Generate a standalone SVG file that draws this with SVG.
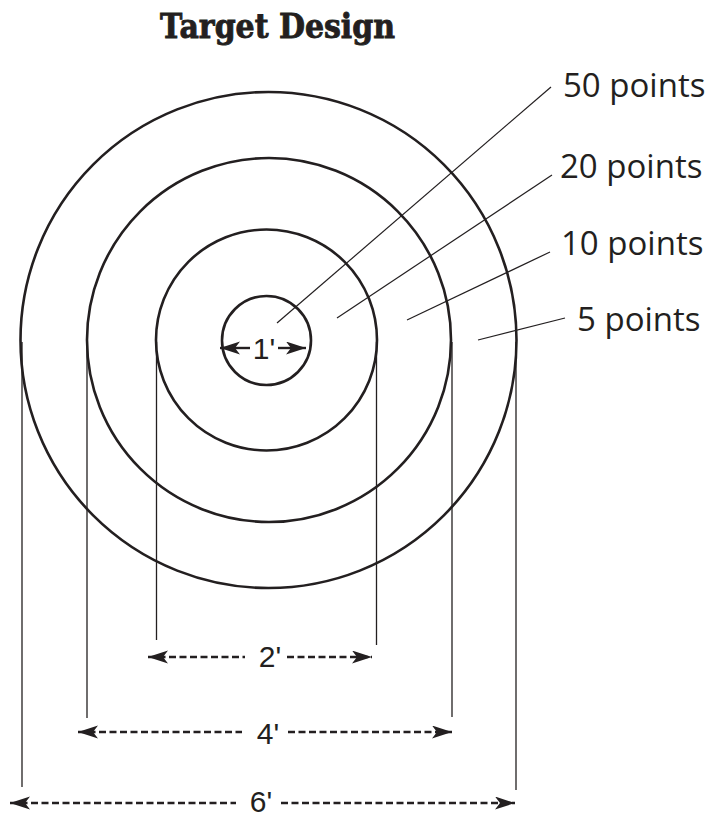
<svg xmlns="http://www.w3.org/2000/svg" width="719" height="817" viewBox="0 0 719 817">
<style>
.ring{fill:none;stroke:#231f20;stroke-width:2.6}
.ext{stroke:#231f20;stroke-width:1.3;fill:none}
.lead{stroke:#231f20;stroke-width:1.2;fill:none}
.dim{stroke:#231f20;stroke-width:2.4;fill:none;stroke-dasharray:7 3.5}
.solid{stroke:#231f20;stroke-width:2.4;fill:none}
.lbl{font-family:"Open Sans","Noto Sans",sans-serif;font-size:33px;fill:#231f20}
.dt{font-family:"Liberation Sans",Arial,sans-serif;font-size:30px;fill:#231f20;text-anchor:middle}
.title{font-family:"DejaVu Serif","Liberation Serif",serif;font-weight:bold;font-size:34px;fill:#231f20;stroke:#231f20;stroke-width:0.9}
</style>
<defs>
<marker id="ah" markerUnits="userSpaceOnUse" markerWidth="22" markerHeight="16" refX="20" refY="6.5" orient="auto-start-reverse">
<path d="M0,0 L20,6.5 L0,13 L5,6.5 z" fill="#231f20"/>
</marker>
</defs>
<text class="title" x="160" y="38" textLength="235" lengthAdjust="spacingAndGlyphs">Target Design</text>
<g id="ring-5"><circle class="ring" cx="268.5" cy="340" r="248"/></g>
<g id="ring-10"><circle class="ring" cx="269" cy="340" r="182"/></g>
<g id="ring-20"><circle class="ring" cx="266.5" cy="340" r="110.5"/></g>
<g id="ring-50"><circle class="ring" cx="266.5" cy="340.5" r="44.5"/></g>
<g id="label-50"><text class="lbl" x="563" y="97">50 points</text></g>
<g id="label-20"><text class="lbl" x="560" y="178">20 points</text></g>
<g id="label-10"><text class="lbl" x="561" y="255">10 points</text></g>
<g id="label-5"><text class="lbl" x="577" y="331">5 points</text></g>
<g id="dim-1"><text class="dt" x="264" y="359">1'</text></g>
<g id="dim-2"><text class="dt" x="270" y="667">2'</text></g>
<g id="dim-4"><text class="dt" x="268" y="744">4'</text></g>
<g id="dim-6"><text class="dt" x="261" y="812">6'</text></g>
<g id="connectors">
<line class="lead" x1="551" y1="87" x2="277" y2="323"/>
<line class="lead" x1="552" y1="175" x2="337" y2="318"/>
<line class="lead" x1="550" y1="252" x2="407" y2="320"/>
<line class="lead" x1="565" y1="318" x2="478" y2="340"/>
<line class="ext" x1="22" y1="342" x2="22" y2="787"/>
<line class="ext" x1="516" y1="342" x2="516" y2="790"/>
<line class="ext" x1="87" y1="342" x2="87" y2="718"/>
<line class="ext" x1="452" y1="342" x2="452" y2="717"/>
<line class="ext" x1="156.5" y1="342" x2="156.5" y2="640"/>
<line class="ext" x1="376.5" y1="342" x2="376.5" y2="645"/>
<line class="solid" x1="250" y1="348" x2="220" y2="348" marker-end="url(#ah)"/>
<line class="solid" x1="278" y1="348" x2="306" y2="348" marker-end="url(#ah)"/>
<line class="dim" x1="148" y1="657" x2="245" y2="657" marker-start="url(#ah)"/>
<line class="dim" x1="287" y1="657" x2="372" y2="657" marker-end="url(#ah)"/>
<line class="dim" x1="78" y1="732" x2="242" y2="732" marker-start="url(#ah)"/>
<line class="dim" x1="288" y1="732" x2="452" y2="732" marker-end="url(#ah)"/>
<line class="dim" x1="10" y1="803" x2="236" y2="803" marker-start="url(#ah)"/>
<line class="dim" x1="281" y1="803" x2="515" y2="803" marker-end="url(#ah)"/>
</g>
</svg>
